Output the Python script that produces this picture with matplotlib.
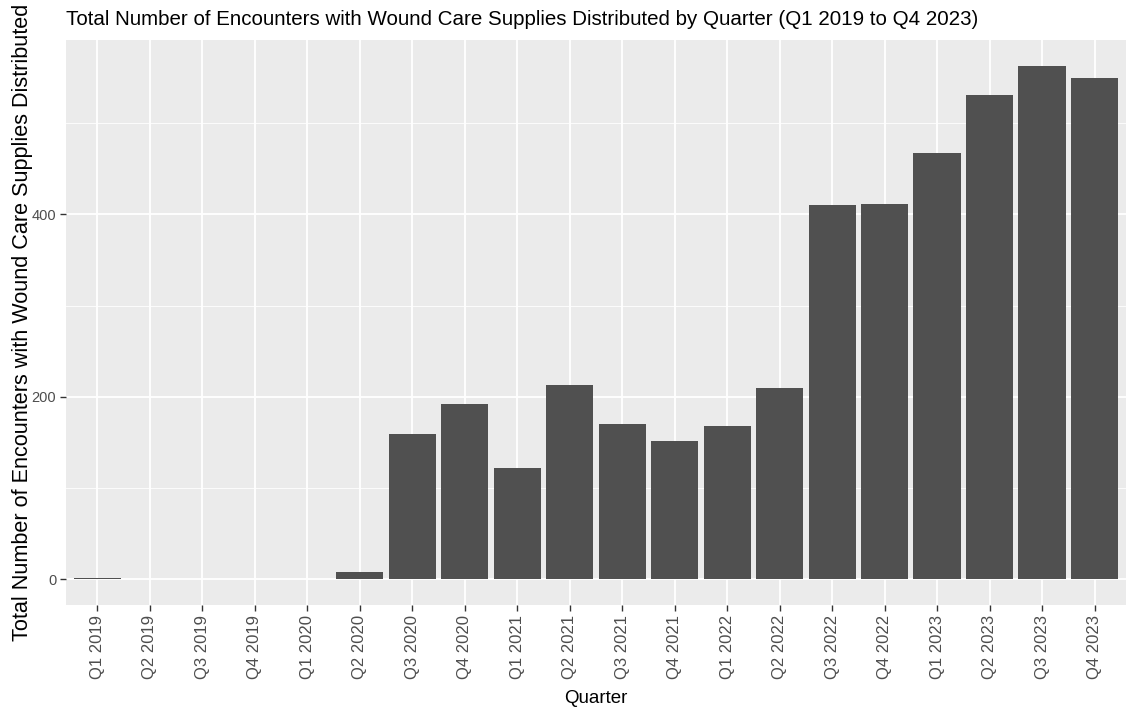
import numpy as np
import matplotlib
matplotlib.use('Agg')
import matplotlib.pyplot as plt
from matplotlib.ticker import MultipleLocator

plt.rcParams['font.family'] = ['Liberation Sans', 'DejaVu Sans']

# quarterly counts
quarters = ['Q1 2019', 'Q2 2019', 'Q3 2019', 'Q4 2019',
            'Q1 2020', 'Q2 2020', 'Q3 2020', 'Q4 2020',
            'Q1 2021', 'Q2 2021', 'Q3 2021', 'Q4 2021',
            'Q1 2022', 'Q2 2022', 'Q3 2022', 'Q4 2022',
            'Q1 2023', 'Q2 2023', 'Q3 2023', 'Q4 2023']
encounters = [1, 0, 0, 0,
              0, 8, 159, 192,
              122, 213, 170, 152,
              168, 210, 410, 411,
              467, 531, 563, 549]

fig = plt.figure(figsize=(11.26, 7.08), dpi=100)
ax = fig.add_axes([0.0586, 0.1455, 0.9414, 0.798])
ax.set_facecolor('#EBEBEB')

x = np.arange(len(quarters))
ax.bar(x, encounters, width=0.9, color='#505050', zorder=3)

# ggplot-style 5% padding on y, 0.6 on the discrete x axis
ymax = max(encounters)
ax.set_ylim(-0.05 * ymax, 1.05 * ymax)
ax.set_xlim(-0.6, len(quarters) - 0.4)

ax.yaxis.set_major_locator(MultipleLocator(200))
ax.yaxis.set_minor_locator(MultipleLocator(100))
ax.grid(which='major', color='white', linewidth=1.3, zorder=0)
ax.grid(which='minor', axis='y', color='white', linewidth=0.6, zorder=0)
ax.set_axisbelow(True)

ax.set_xticks(x)
ax.set_xticklabels(quarters, rotation=90, fontsize=12, color='#4D4D4D')
ax.tick_params(axis='y', labelsize=10.5, labelcolor='#4D4D4D')
ax.tick_params(which='major', color='#333333', length=4, width=1, pad=3)
ax.tick_params(which='minor', length=0)
for s in ax.spines.values():
    s.set_visible(False)

ax.set_xlabel('Quarter', fontsize=13.5, labelpad=8)
ax.set_ylabel('Total Number of Encounters with Wound Care Supplies Distributed',
              fontsize=15.6)
ax.yaxis.set_label_coords(-0.031, 0.5)
ax.set_title('Total Number of Encounters with Wound Care Supplies Distributed by Quarter (Q1 2019 to Q4 2023)',
             fontsize=14.8, loc='left', pad=11)

fig.savefig('out.png', dpi=100)
